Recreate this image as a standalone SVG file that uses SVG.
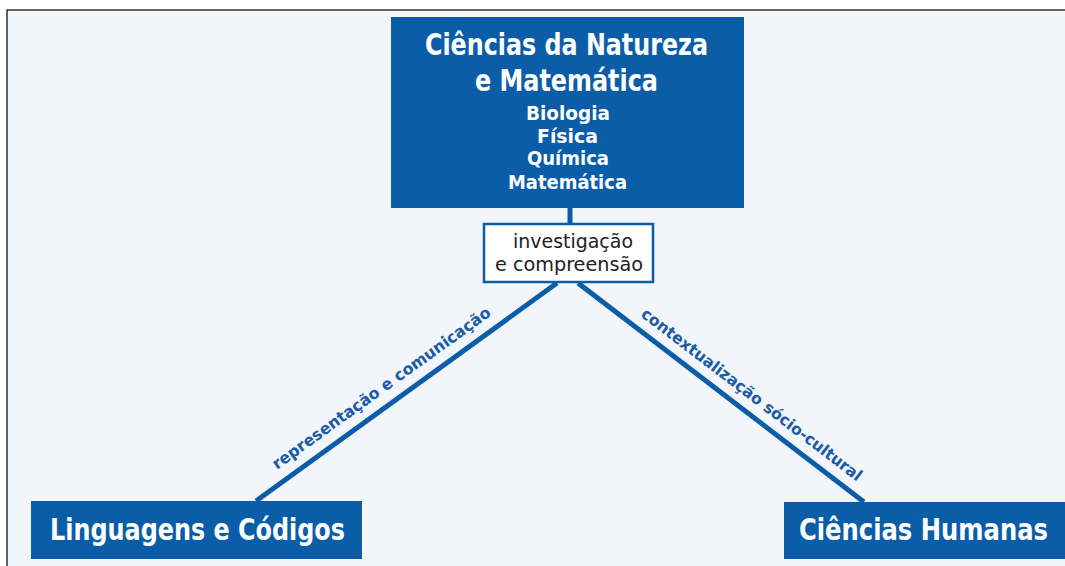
<svg xmlns="http://www.w3.org/2000/svg" width="1065" height="566" viewBox="0 0 1065 566">
<style>
.box{fill:#0b5da8}
.t{font-family:"Liberation Sans Narrow","DejaVu Sans Condensed","Liberation Sans",sans-serif;font-stretch:condensed;font-weight:bold;fill:#fff;text-anchor:middle}
.big{font-size:30px}
.sub{font-size:20px}
.lbl{font-family:"Liberation Sans Narrow","DejaVu Sans Condensed","Liberation Sans",sans-serif;font-stretch:condensed;font-weight:bold;font-size:16px;fill:#1a5ba6}
.mid{font-family:"Liberation Sans Narrow","DejaVu Sans Condensed","Liberation Sans",sans-serif;font-stretch:condensed;font-size:20px;fill:#222;text-anchor:middle}
.conn{stroke:#0b5da8;stroke-width:5;fill:none}
</style>
<rect x="0" y="0" width="1065" height="566" fill="#fff"/>
<rect x="7" y="10" width="1070" height="570" fill="#f2f6fb" stroke="#000" stroke-width="1.2"/>
<g id="connectors">
<line class="conn" x1="570" y1="206" x2="570" y2="224"/>
<line class="conn" x1="557" y1="283" x2="256" y2="501"/>
<line class="conn" x1="578" y1="283" x2="864" y2="502"/>
<text class="lbl" transform="translate(277,470) rotate(-35.8)" textLength="265" lengthAdjust="spacingAndGlyphs">representação e comunicação</text>
<text class="lbl" transform="translate(640,316) rotate(37.4)" textLength="273" lengthAdjust="spacingAndGlyphs">contextualização sócio-cultural</text>
</g>
<g id="node-natureza">
<rect class="box" x="391" y="17" width="353" height="191"/>
<text class="t big" x="566.5" y="55" textLength="283" lengthAdjust="spacingAndGlyphs">Ciências da Natureza</text>
<text class="t big" x="566.5" y="91" textLength="183" lengthAdjust="spacingAndGlyphs">e Matemática</text>
<text class="t sub" x="568" y="120" textLength="84" lengthAdjust="spacingAndGlyphs">Biologia</text>
<text class="t sub" x="567.5" y="143" textLength="61" lengthAdjust="spacingAndGlyphs">Física</text>
<text class="t sub" x="568" y="165" textLength="82" lengthAdjust="spacingAndGlyphs">Química</text>
<text class="t sub" x="567.5" y="189" textLength="119" lengthAdjust="spacingAndGlyphs">Matemática</text>
</g>
<g id="node-investigacao">
<rect x="484" y="224" width="169" height="58" fill="#fff" stroke="#0b5da8" stroke-width="2.5"/>
<text class="mid" x="573" y="248" textLength="120" lengthAdjust="spacingAndGlyphs">investigação</text>
<text class="mid" x="569" y="271" textLength="148" lengthAdjust="spacingAndGlyphs">e compreensão</text>
</g>
<g id="node-linguagens">
<rect class="box" x="31" y="501" width="331" height="58"/>
<text class="t big" x="197.5" y="540" textLength="295" lengthAdjust="spacingAndGlyphs">Linguagens e Códigos</text>
</g>
<g id="node-humanas">
<rect class="box" x="784" y="502" width="281" height="57"/>
<text class="t big" x="923.5" y="540" textLength="249" lengthAdjust="spacingAndGlyphs">Ciências Humanas</text>
</g>
</svg>
